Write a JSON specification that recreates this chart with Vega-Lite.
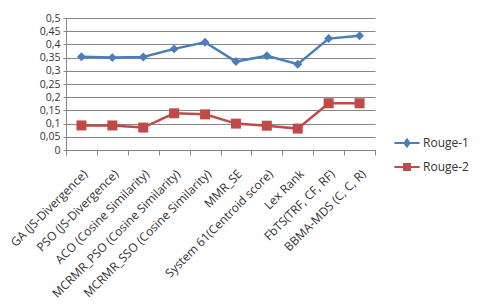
{
  "$schema": "https://vega.github.io/schema/vega-lite/v6.json",
  "width": 309,
  "height": 132,
  "autosize": "none",
  "padding": {"left": 66, "top": 18, "right": 105, "bottom": 158},
  "background": "white",
  "config": {
    "locale": {"number": {"decimal": ",", "thousands": ".", "grouping": [3], "currency": ["", ""]}},
    "view": {"stroke": null},
    "font": "Open Sans",
    "axis": {"labelFont": "Open Sans", "labelColor": "#333333", "labelFontSize": 12}
  },
  "data": {
    "values": [
      {"m": "GA (JS-Divergence)", "s": "Rouge-1", "v": 0.353},
      {"m": "PSO (JS-Divergence)", "s": "Rouge-1", "v": 0.350},
      {"m": "ACO (Cosine Similarity)", "s": "Rouge-1", "v": 0.352},
      {"m": "MCRMR_PSO (Cosine Similarity)", "s": "Rouge-1", "v": 0.383},
      {"m": "MCRMR_SSO (Cosine Similarity)", "s": "Rouge-1", "v": 0.408},
      {"m": "MMR_SE", "s": "Rouge-1", "v": 0.335},
      {"m": "System 61(Centroid score)", "s": "Rouge-1", "v": 0.357},
      {"m": "Lex Rank", "s": "Rouge-1", "v": 0.325},
      {"m": "FbTS(TRF, CF, RF)", "s": "Rouge-1", "v": 0.422},
      {"m": "BBMA-MDS (C, C, R)", "s": "Rouge-1", "v": 0.433},
      {"m": "GA (JS-Divergence)", "s": "Rouge-2", "v": 0.093},
      {"m": "PSO (JS-Divergence)", "s": "Rouge-2", "v": 0.093},
      {"m": "ACO (Cosine Similarity)", "s": "Rouge-2", "v": 0.085},
      {"m": "MCRMR_PSO (Cosine Similarity)", "s": "Rouge-2", "v": 0.139},
      {"m": "MCRMR_SSO (Cosine Similarity)", "s": "Rouge-2", "v": 0.135},
      {"m": "MMR_SE", "s": "Rouge-2", "v": 0.100},
      {"m": "System 61(Centroid score)", "s": "Rouge-2", "v": 0.092},
      {"m": "Lex Rank", "s": "Rouge-2", "v": 0.081},
      {"m": "FbTS(TRF, CF, RF)", "s": "Rouge-2", "v": 0.177},
      {"m": "BBMA-MDS (C, C, R)", "s": "Rouge-2", "v": 0.177}
    ]
  },
  "encoding": {
    "x": {
      "field": "m", "type": "nominal", "sort": null, "title": null, "bandPosition": 0.5,
      "scale": {"type": "band", "paddingInner": 0, "paddingOuter": 0},
      "axis": {
        "labelAngle": -45, "labelAlign": "right", "labelBaseline": "top", "labelPadding": 13,
        "tickBand": "extent", "tickSize": 5, "tickColor": "#868686", "domainColor": "#868686",
        "grid": false, "labelLimit": 220
      }
    },
    "y": {
      "field": "v", "type": "quantitative", "title": null,
      "scale": {"domain": [0, 0.5], "nice": false},
      "axis": {
        "values": [0, 0.05, 0.1, 0.15, 0.2, 0.25, 0.3, 0.35, 0.4, 0.45, 0.5],
        "format": ".2~f", "gridColor": "#868686", "gridWidth": 1, "domainColor": "#868686",
        "tickSize": 3, "tickColor": "#868686", "labelPadding": 3, "labelFontSize": 10.5
      }
    },
    "color": {
      "field": "s", "type": "nominal", "title": null,
      "scale": {"domain": ["Rouge-1", "Rouge-2"], "range": ["#4a7ebb", "#be4b48"]},
      "legend": {
        "orient": "none", "legendX": 333, "legendY": 117, "symbolSize": 196, "rowPadding": 8,
        "labelFont": "Open Sans", "labelFontSize": 12, "labelColor": "#333333", "labelOffset": 8,
        "symbolStrokeWidth": 2,
        "encode": {
          "symbols": {
            "update": {
              "shape": {"signal": "datum.value === 'Rouge-1' ? 'M-1.8,0H1.8M0,-0.5L0.36,0L0,0.5L-0.36,0Z' : 'M-1.8,0H1.8M-0.42,-0.42H0.42V0.42H-0.42Z'"},
              "fill": {"signal": "scale('color', datum.value)"}
            }
          }
        }
      }
    }
  },
  "layer": [
    {"mark": {"type": "line", "strokeWidth": 2.5}},
    {
      "transform": [{"filter": "datum.s === 'Rouge-1'"}],
      "mark": {"type": "point", "shape": "diamond", "filled": true, "size": 80, "opacity": 1}
    },
    {
      "transform": [{"filter": "datum.s === 'Rouge-2'"}],
      "mark": {"type": "point", "shape": "square", "filled": true, "size": 100, "opacity": 1}
    }
  ]
}
